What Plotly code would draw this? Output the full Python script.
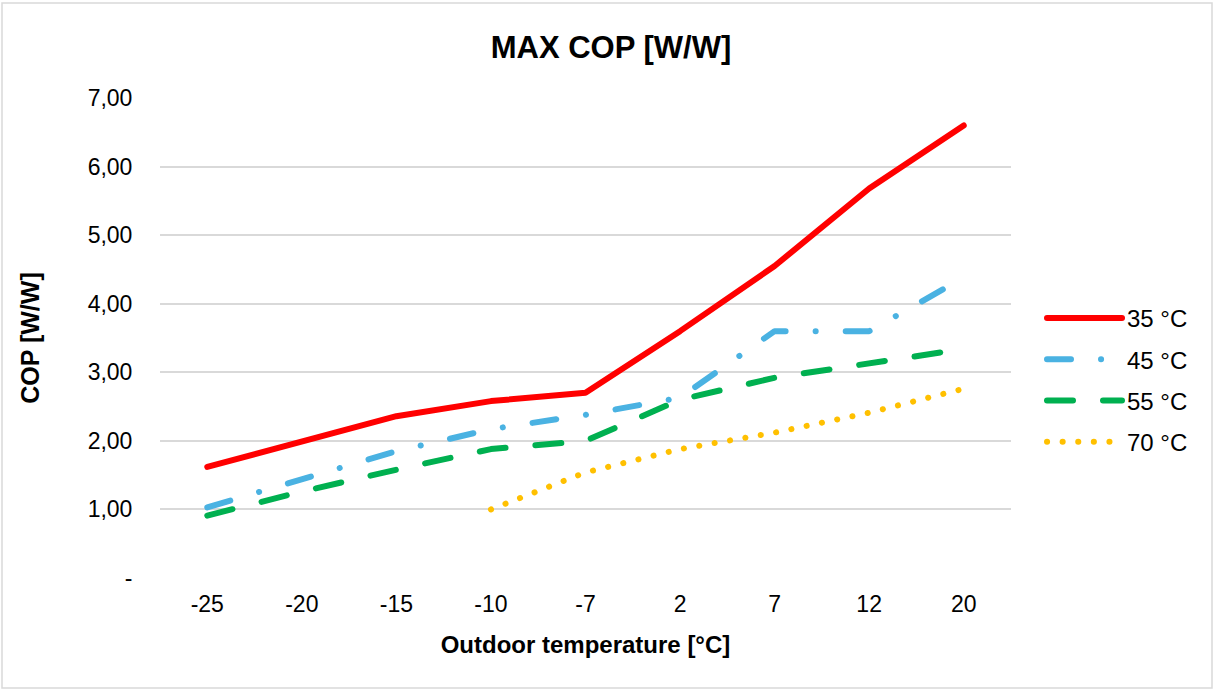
import plotly.graph_objects as go

categories = ["-25", "-20", "-15", "-10", "-7", "2", "7", "12", "20"]
cop_35 = [1.62, 1.99, 2.36, 2.58, 2.70, 3.60, 4.55, 5.68, 6.60]
cop_45 = [1.03, 1.45, 1.85, 2.17, 2.38, 2.63, 3.60, 3.60, 4.38]
cop_55 = [0.91, 1.26, 1.58, 1.88, 2.00, 2.60, 2.92, 3.14, 3.34]
cop_70 = [None, None, None, 1.00, 1.54, 1.88, 2.12, 2.41, 2.76]

y_tickvals = [0, 1, 2, 3, 4, 5, 6, 7]
y_ticktext = ["-", "1,00", "2,00", "3,00", "4,00", "5,00", "6,00", "7,00"]

FONT = "Liberation Sans, Arial, sans-serif"

W, H = 1215, 691
L, R, T, B = 160, 1011, 98, 578
pw, ph = R - L, B - T

fig = go.Figure()
series = [
    ("35 °C", cop_35, "#FF0000", "solid"),
    ("45 °C", cop_45, "#4AB2E2", "24px,30px,0.1px,30px"),
    ("55 °C", cop_55, "#00B050", "26px,30px"),
    ("70 °C", cop_70, "#FFC000", "0.1px,15.5px"),
]
for name, vals, color, dash in series:
    fig.add_trace(go.Scatter(
        x=categories, y=vals, name=name, mode="lines", legendgroup=name,
        line=dict(color=color, width=6, dash=dash),
        connectgaps=False,
    ))

fig.update_layout(
    width=W, height=H,
    margin=dict(l=L, r=W - R, t=T, b=H - B, autoexpand=False),
    paper_bgcolor="white", plot_bgcolor="white",
    font=dict(family=FONT, size=23, color="#000000"),
    title=dict(text="<b>MAX COP [W/W]</b>", x=611 / W, xanchor="center",
               y=1 - 47 / H, yanchor="middle", font=dict(size=31, family=FONT)),
    xaxis=dict(type="category", range=[-0.5, 8.5], showgrid=False, zeroline=False, showline=False,
               ticks="outside", ticklen=5, tickcolor="rgba(0,0,0,0)",
               tickfont=dict(size=23),
               title=dict(text="<b>Outdoor temperature [°C]</b>", font=dict(size=24), standoff=20)),
    yaxis=dict(range=[0, 7], tickvals=y_tickvals, ticktext=y_ticktext,
               showgrid=True, gridcolor="#D9D9D9", gridwidth=1.5, zeroline=False,
               ticks="outside", ticklen=22, tickcolor="rgba(0,0,0,0)",
               tickfont=dict(size=23),
               title=dict(text="<b>COP [W/W]</b>", font=dict(size=25), standoff=40)),
    legend=dict(x=(1042 - L) / pw, xanchor="left", y=(B - 296) / ph, yanchor="top",
                font=dict(size=24), itemwidth=75, tracegroupgap=7,
                bgcolor="rgba(0,0,0,0)"),
    showlegend=True,
)

fig.add_shape(type="rect", xref="paper", yref="paper",
              x0=(2 - L) / pw, x1=(1212 - L) / pw,
              y0=(B - 688) / ph, y1=(B - 3) / ph,
              line=dict(color="#D9D9D9", width=1.5), fillcolor="rgba(0,0,0,0)", layer="below")

post = """
document.body.style.margin = '0px';
document.body.style.overflow = 'hidden';
function roundCaps() {
  document.querySelectorAll('path.js-line').forEach(function (p) {
    p.style.strokeLinecap = 'round';
    p.style.strokeLinejoin = 'round';
  });
}
roundCaps();
var gd = document.getElementById('{plot_id}');
if (gd && gd.on) { gd.on('plotly_afterplot', roundCaps); }
"""

fig.write_html("out.html", post_script=post, config={"displayModeBar": False})
